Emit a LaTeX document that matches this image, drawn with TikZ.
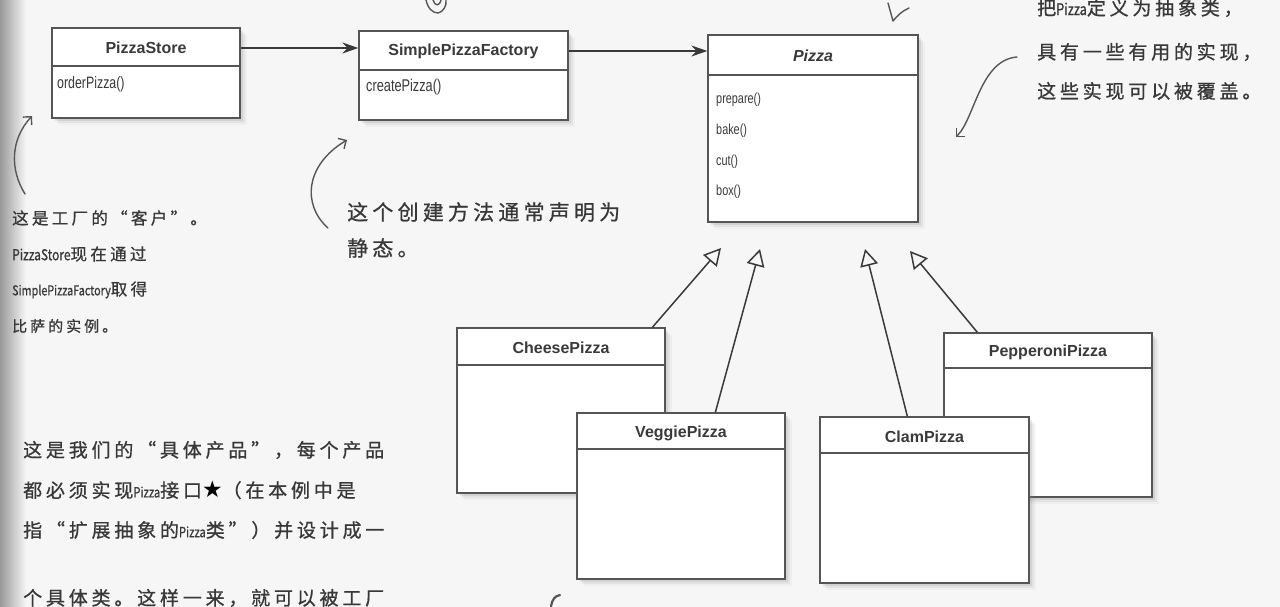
\documentclass[tikz,border=0pt]{standalone}
\usepackage{fontspec}
\setmainfont{Liberation Sans}
\newfontfamily\methfont[FakeStretch=0.75]{Liberation Sans}
\newfontfamily\hand[LetterSpace=20,FakeBold=0.8]{Noto Sans CJK SC}
\newfontfamily\handlat[FakeStretch=0.8,FakeBold=0.8]{Noto Sans CJK SC}
\newfontfamily\symfont{DejaVu Sans}
\usetikzlibrary{arrows.meta,shadows,calc}
\definecolor{bg}{HTML}{F6F6F6}
\definecolor{boxline}{HTML}{555555}
\definecolor{ink}{HTML}{3A3A3A}
\definecolor{hw}{HTML}{383838}
\newcommand\hlat[2][14]{{\handlat\fontsize{#1}{#1}\selectfont #2}}
\newcommand\hstar{{\symfont\fontsize{23}{23}\selectfont\color{black}★}}
\begin{document}
\begin{tikzpicture}[x=1pt,y=-1pt,
  classbox/.style={draw=boxline, line width=1.3pt, fill=white, inner sep=0pt,
    drop shadow={shadow xshift=7pt, shadow yshift=-7pt, opacity=0.06},
    drop shadow={shadow xshift=5pt, shadow yshift=-5pt, opacity=0.10},
    drop shadow={shadow xshift=3pt, shadow yshift=-3pt, opacity=0.16}},
  divider/.style={draw=boxline, line width=1.1pt},
  titletext/.style={font=\bfseries\fontsize{16}{18}\selectfont, text=ink, inner sep=0pt},
  methtext/.style={font=\methfont\fontsize{16.5}{18}\selectfont, text=ink, inner sep=0pt, anchor=west},
  pzmeth/.style={methtext, font=\methfont\fontsize{14.5}{16}\selectfont},
  assoc/.style={draw=ink, line width=1.8pt, -{Stealth[length=16pt,width=11pt]}},
  inherit/.style={draw=ink, line width=1.5pt, -{Triangle[open, length=17pt, width=18pt]}},
  handtext/.style={font=\hand\fontsize{19}{22}\selectfont, text=hw, inner sep=0pt, anchor=west},
  sketch/.style={draw=hw!85!white, line width=1.4pt, line cap=round, line join=round},
  sketcharrow/.style={sketch, -{Straight Barb[length=6pt, width=12pt]}},
]
\useasboundingbox (0,0) rectangle (1280,607);
\clip (0,0) rectangle (1280,607);
\fill[bg] (0,0) rectangle (1280,607);
\shade[left color=black!40, right color=bg] (0,0) rectangle (26,607);

% PizzaStore
\node[classbox, minimum width=188pt, minimum height=90pt] (ps) at (146,73) {};
\coordinate (psd) at (52,66);
\draw[divider] (psd) -- (psd -| ps.east);
\node[titletext] (pst) at (146,48) {PizzaStore};
\node[methtext] (psm) at (57,84) {orderPizza()};

% SimplePizzaFactory
\node[classbox, minimum width=209pt, minimum height=89pt] (spf) at (463.5,75.5) {};
\coordinate (spfd) at (359,70);
\draw[divider] (spfd) -- (spfd -| spf.east);
\node[titletext] (spft) at (463.5,51) {SimplePizzaFactory};
\node[methtext, font=\methfont\fontsize{17}{18}\selectfont] (spfm) at (366,87) {createPizza()};

% Pizza
\node[classbox, minimum width=210pt, minimum height=187pt] (pz) at (813,128.5) {};
\coordinate (pzd) at (708,75);
\draw[divider] (pzd) -- (pzd -| pz.east);
\node[titletext, font=\bfseries\itshape\fontsize{16}{18}\selectfont] (pzt) at (813,56) {Pizza};
\node[pzmeth] (pzm1) at (716,100) {prepare()};
\node[pzmeth] (pzm2) at (716,131) {bake()};
\node[pzmeth] (pzm3) at (716,162) {cut()};
\node[pzmeth] (pzm4) at (716,192) {box()};

% associations
\draw[assoc] (ps.east |- pst) -- (spf.west |- pst);
\draw[assoc] (spf.east |- spft) -- (pz.west |- spft);

% CheesePizza
\node[classbox, minimum width=208pt, minimum height=165pt] (ch) at (561,410.5) {};
\coordinate (chd) at (457,365);
\draw[divider] (chd) -- (chd -| ch.east);
\node[titletext] (cht) at (561,348) {CheesePizza};

% PepperoniPizza
\node[classbox, minimum width=208pt, minimum height=164pt] (pp) at (1048,415) {};
\coordinate (ppd) at (944,368);
\draw[divider] (ppd) -- (ppd -| pp.east);
\node[titletext] (ppt) at (1048,352) {PepperoniPizza};

% VeggiePizza
\node[classbox, minimum width=208pt, minimum height=166pt] (vg) at (681,496) {};
\coordinate (vgd) at (577,449);
\draw[divider] (vgd) -- (vgd -| vg.east);
\node[titletext] (vgt) at (681,433) {VeggiePizza};

% ClamPizza
\node[classbox, minimum width=209pt, minimum height=166pt] (cl) at (924.5,500) {};
\coordinate (cld) at (820,453);
\draw[divider] (cld) -- (cld -| cl.east);
\node[titletext] (clt) at (924.5,437) {ClamPizza};

% inheritance
\coordinate (tipch) at (721,248);
\coordinate (tipvg) at (760,249);
\coordinate (tipcl) at (865,249);
\coordinate (tippp) at (910,251);
\draw[inherit] ($(ch.north west)+(196,0)$) -- (tipch);
\draw[inherit] ($(vg.north west)+(139,0)$) -- (tipvg);
\draw[inherit] ($(cl.north west)+(88,0)$) -- (tipcl);
\draw[inherit] ($(pp.north west)+(34,0)$) -- (tippp);

% handwritten notes
\node[handtext, font=\hand\fontsize{16.5}{20}\selectfont] (la1) at (12,218) {这是工厂的“客户”。};
\node[handtext, font=\hand\fontsize{16.5}{20}\selectfont] (la2) at (12,254) {\hlat[15]{PizzaStore}现在通过};
\node[handtext, font=\hand\fontsize{16.5}{20}\selectfont] (la3) at (12,290) {\hlat[13.5]{SimplePizzaFactory}取得};
\node[handtext, font=\hand\fontsize{15}{18}\selectfont] (la4) at (12,326) {比萨的实例。};

\node[handtext, font=\hand\fontsize{21}{24}\selectfont] (ma1) at (347,212) {这个创建方法通常声明为};
\node[handtext, font=\hand\fontsize{21}{24}\selectfont] (ma2) at (347,248) {静态。};

\node[handtext] (ra1) at (1037,8) {把\hlat[16]{Pizza}定义为抽象类，};
\node[handtext] (ra2) at (1037,52) {具有一些有用的实现，};
\node[handtext] (ra3) at (1037,91) {这些实现可以被覆盖。};

\node[handtext] (ba1) at (23,450) {这是我们的“具体产品”，每个产品};
\node[handtext] (ba2) at (23,490) {都必须实现\hlat{Pizza}接口\hstar（在本例中是};
\node[handtext] (ba3) at (23,530) {指“扩展抽象的\hlat{Pizza}类”）并设计成一};
\node[handtext] (ba4) at (23,598) {个具体类。这样一来，就可以被工厂};

% note arrows
\coordinate (lat) at (25,194);
\coordinate (lah) at (32,116);
\draw[sketcharrow] (lat) .. controls (10,170) and (10,140) .. (lah);
\coordinate (mat) at (328,228);
\coordinate (mah) at (347,140);
\draw[sketcharrow] (mat) .. controls (302,205) and (305,165) .. (mah);
\coordinate (rat) at (1017,57);
\coordinate (rah) at (956,137);
\draw[sketcharrow] (rat) .. controls (980,60) and (975,118) .. (rah);

% cut-off sketch marks at the edges
\draw[sketch] (426,0) .. controls (428,9) and (433,13) .. (438,13) .. controls (443,12) and (447,6) .. (446,0);
\draw[sketch] (433,0) .. controls (435,6) and (439,7) .. (441,0);
\draw[sketch] (888,3) -- (893,21) .. controls (897,16) and (902,11) .. (909,8);
\draw[sketch, line width=2.2pt] (551,607) .. controls (552,599) and (555,596) .. (560,595);
\end{tikzpicture}
\end{document}
